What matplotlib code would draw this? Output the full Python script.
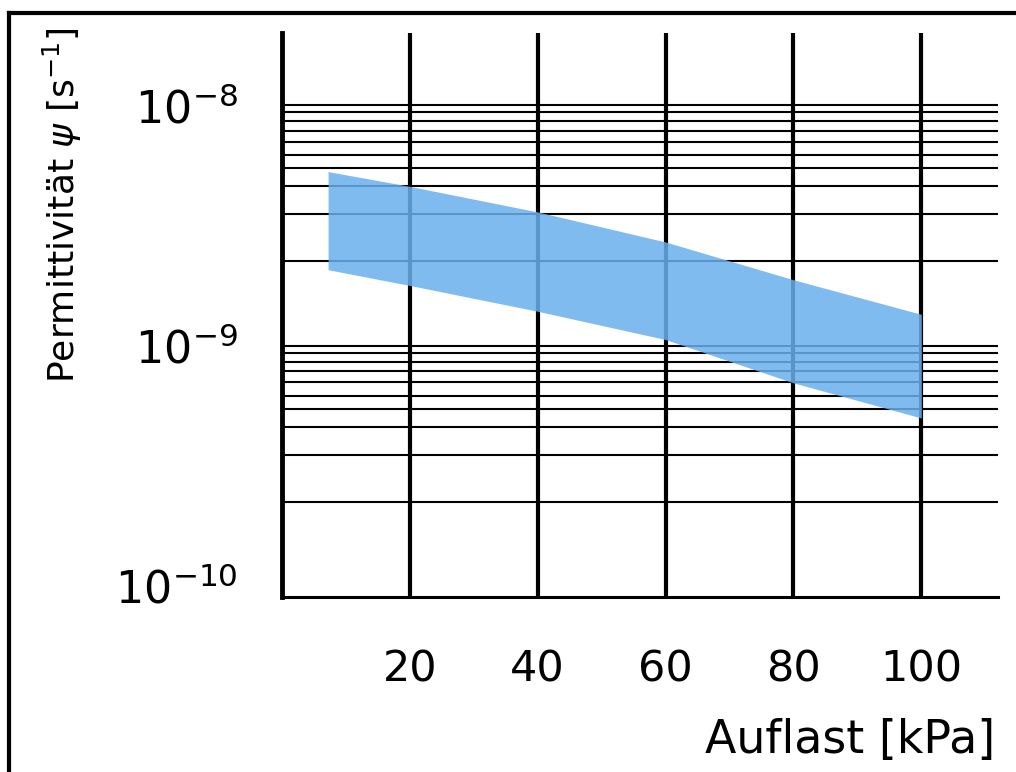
import matplotlib
matplotlib.use("Agg")
import matplotlib.pyplot as plt
from matplotlib.lines import Line2D

# Band of measured permittivity vs. load
load_kpa = [7.2, 20, 40, 60, 80, 100]
psi_upper = [5.3e-9, 4.6e-9, 3.6e-9, 2.7e-9, 1.88e-9, 1.35e-9]
psi_lower = [2.07e-9, 1.78e-9, 1.39e-9, 1.06e-9, 7.0e-10, 5.0e-10]

x_ticks = [20, 40, 60, 80, 100]
y_ticks = [1e-10, 1e-9, 1e-8]
y_tick_labels = [r"$10^{-10}$", r"$10^{-9}$", r"$10^{-8}$"]
# paper grid: decade lines plus the printed intermediate lines
grid_decades = [1e-10, 1e-9]
grid_mantissas = [2.24, 3.52, 4.6, 5.47, 6.2, 7.05, 7.85, 8.57, 9.35]

plt.rcParams["font.family"] = ["DejaVu Sans"]
plt.rcParams["mathtext.fontset"] = "dejavusans"

fig = plt.figure(figsize=(10.16, 7.72), dpi=100)
ax = fig.add_axes([0.2776, 0.2267, 0.7047, 0.7306])
ax.set_yscale("log")
ax.set_xlim(0, 112)
ax.set_ylim(9.0e-11, 2.0e-8)

# horizontal grid lines
hlines = [1e-9, 1e-8]
for d in grid_decades:
    hlines += [d * m for m in grid_mantissas]
for yv in hlines:
    ax.axhline(yv, color="black", lw=1.5, zorder=1)

# vertical lines at the load ticks
for xv in x_ticks:
    ax.axvline(xv, color="black", lw=3.0, zorder=1)

ax.fill_between(load_kpa, psi_lower, psi_upper, color="#6ab0ee",
                alpha=0.85, lw=0, zorder=2)

ax.set_xticks(x_ticks)
ax.set_xticklabels([str(v) for v in x_ticks])
ax.set_yticks(y_ticks)
ax.set_yticklabels(y_tick_labels)
ax.yaxis.set_minor_locator(matplotlib.ticker.NullLocator())
ax.tick_params(axis="x", length=0, pad=37, labelsize=31)
ax.tick_params(axis="y", length=0, pad=32, labelsize=32)

for s in ["top", "right"]:
    ax.spines[s].set_visible(False)
ax.spines["left"].set_linewidth(3.5)
ax.spines["bottom"].set_linewidth(2.2)

fig.text(995 / 1016, 1 - 740 / 772, "Auflast [kPa]", ha="right",
         va="center", fontsize=33)
fig.text(62 / 1016, 1 - 205 / 772, r"Permittivität $\psi$ [s$^{-1}$]",
         rotation=90, ha="center", va="center", fontsize=26)

# frame lines along the top and left edges
fig.add_artist(Line2D([9 / 1016, 1], [1 - 13 / 772, 1 - 13 / 772],
                      transform=fig.transFigure, color="black", lw=3))
fig.add_artist(Line2D([9 / 1016, 9 / 1016], [0, 1 - 13 / 772],
                      transform=fig.transFigure, color="black", lw=3))

fig.savefig("out.png", dpi=100)
